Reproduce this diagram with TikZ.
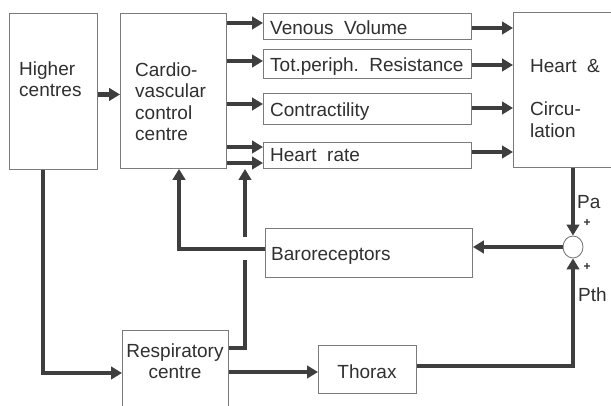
\documentclass[tikz,border=0pt]{standalone}
\usepackage{fontspec}
\setmainfont{Liberation Sans}
\usetikzlibrary{arrows.meta,shapes.geometric}
\definecolor{boxgray}{HTML}{7A7A7A}
\definecolor{arrgray}{HTML}{3E3E3E}
\definecolor{txt}{HTML}{303030}
\begin{document}
\begin{tikzpicture}[x=1pt,y=-1pt,
  box/.style={draw=boxgray, line width=0.9pt, inner sep=0pt, anchor=north west},
  lbl/.style={text=txt, font=\fontsize{19}{21.5}\selectfont, inner sep=0pt},
  plus/.style={text=txt, font=\bfseries\fontsize{12}{12}\selectfont, inner sep=0pt},
  arr/.style={draw=arrgray, line width=4.6pt, line join=miter, -{Triangle[length=11pt,width=12.5pt]}},
  ln/.style={draw=arrgray, line width=4.6pt, line join=miter},
]
\useasboundingbox[fill=white] (0,0) rectangle (611,406);
% boxes
\node[box, minimum width=88pt, minimum height=156pt] (hc) at (9,13) {};
\node[box, minimum width=106pt, minimum height=155pt] (cv) at (120,13) {};
\node[box, minimum width=208pt, minimum height=26pt] (vv) at (263,13) {};
\node[box, minimum width=208pt, minimum height=29pt] (tpr) at (263,49) {};
\node[box, minimum width=208pt, minimum height=31pt] (con) at (263,93) {};
\node[box, minimum width=208pt, minimum height=26pt] (hr) at (263,142) {};
\node[box, minimum width=105pt, minimum height=155pt] (hcirc) at (513,12) {};
\node[box, minimum width=207pt, minimum height=49pt] (baro) at (265,228) {};
\node[box, minimum width=106pt, minimum height=85pt] (resp) at (122,330) {};
\node[box, minimum width=98pt, minimum height=48pt] (thorax) at (318,345) {};
\node[draw=boxgray, line width=0.9pt, ellipse, minimum width=20pt, minimum height=22pt, inner sep=0pt] (sum) at (573,247) {};
% texts
\node[lbl, anchor=north west, align=left] (t-hc) at (19,61.5) {Higher\\centres};
\node[lbl, anchor=north west, align=left] (t-cv) at (135,62.5) {Cardio-\\vascular\\control\\centre};
\node[lbl, anchor=base west] (t-vv) at (270,35) {Venous\ \ Volume};
\node[lbl, anchor=base west] (t-tpr) at (270,72) {Tot.periph.\ \ Resistance};
\node[lbl, anchor=base west] (t-con) at (270,117) {Contractility};
\node[lbl, anchor=base west] (t-hr) at (270,162) {Heart\ \ rate};
\node[lbl, anchor=north west, align=left] (t-hcirc) at (530,59.5) {Heart\ \ \&\\[21.5pt]Circu-\\lation};
\node[lbl, anchor=base west] (t-baro) at (271,261) {Baroreceptors};
\node[lbl, anchor=north, align=center] (t-resp) at (175,343.5) {Respiratory\\centre};
\node[lbl, anchor=base] (t-thorax) at (367,378) {Thorax};
\node[lbl, anchor=base west] (pa) at (577,209) {Pa};
\node[lbl, anchor=base west] (pth) at (578,302) {Pth};
\node[plus] (plus1) at (587,223) {+};
\node[plus] (plus2) at (587,267) {+};
% connectors
\draw[arr] ([yshift=-3pt]hc.east) -- ([yshift=-3pt]hc.east -| cv.west);
\draw[arr] (cv.east |- 0,23) -- (vv.west |- 0,23);
\draw[arr] (cv.east |- 0,61) -- (tpr.west |- 0,61);
\draw[arr] (cv.east |- 0,104) -- (con.west |- 0,104);
\draw[arr] (cv.east |- 0,147) -- (hr.west |- 0,147);
\draw[arr] (cv.east |- 0,163) -- (hr.west |- 0,163);
\draw[arr] (vv.east |- 0,28) -- (hcirc.west |- 0,28);
\draw[arr] (tpr.east |- 0,65) -- (hcirc.west |- 0,65);
\draw[arr] (con.east |- 0,108) -- (hcirc.west |- 0,108);
\draw[arr] (hr.east |- 0,152) -- (hcirc.west |- 0,152);
\draw[arr] (hcirc.south -| sum) -- (sum.north);
\draw[arr] (sum.west) -- (sum.west -| baro.east);
\draw[arr] (baro.west |- 0,249) -| (cv.south -| 179,0);
\draw[arr] (hc.south -| 43,0) |- (resp.west |- 0,373);
\draw[ln] (resp.east |- 0,348) -| (245,260);
\coordinate (gapTop) at (245,237);
\draw[arr] (gapTop) -- (245,169);
\draw[arr] (resp.east |- 0,372) -- (thorax.west |- 0,372);
\draw[arr] (thorax.east |- 0,366) -| (sum.south);
\end{tikzpicture}
\end{document}
